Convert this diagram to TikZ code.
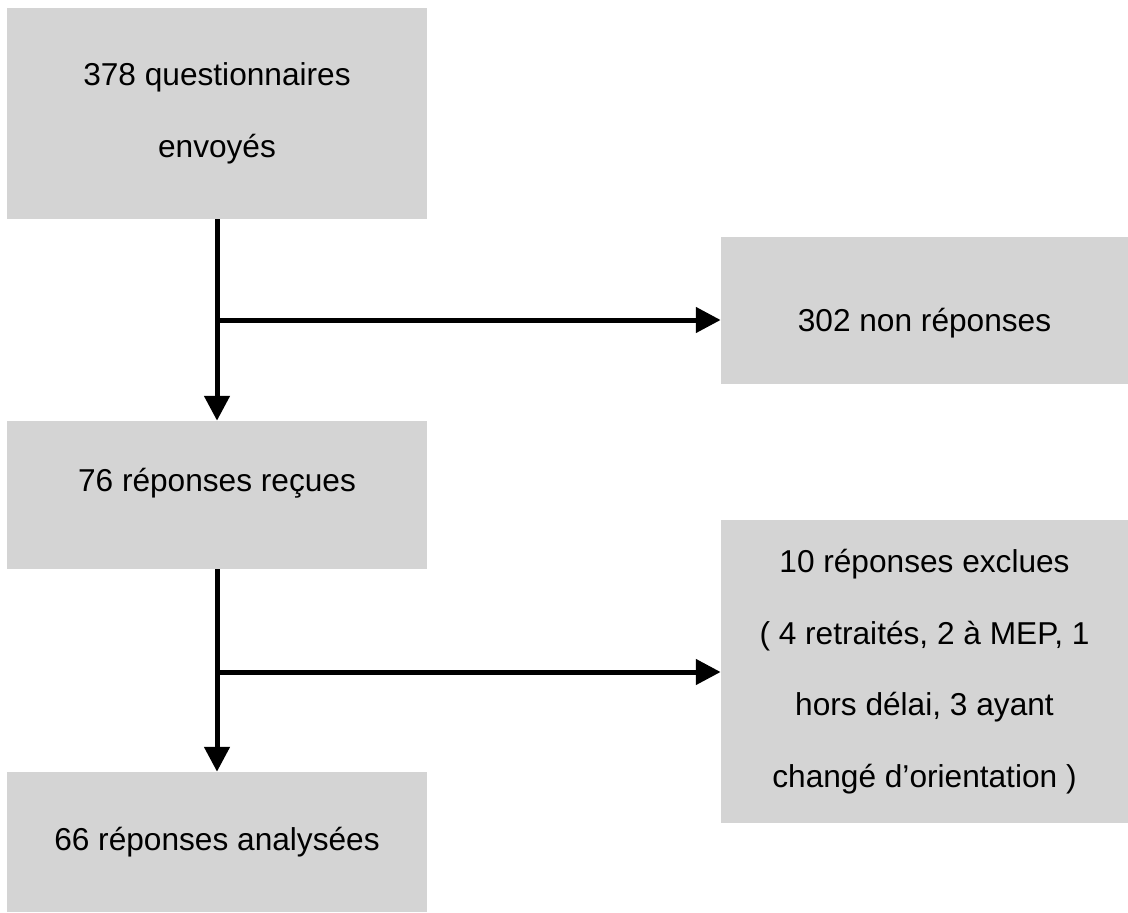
\documentclass[tikz,border=0pt]{standalone}
\usepackage{fontspec}
\setmainfont{Liberation Sans}
\usepackage{tikz}
\usetikzlibrary{arrows.meta}
\definecolor{FlowGrey}{HTML}{D4D4D4}

\begin{document}
\begin{tikzpicture}[x=0.025cm,y=-0.025cm,
  flowbox/.style={fill=FlowGrey,inner sep=0pt,align=center,font=\fontsize{22.5pt}{51pt}\selectfont},
  flowarrow/.style={line width=0.125cm,-{Triangle[length=0.62cm,width=0.62cm]}}]
\path[use as bounding box] (0,0) rectangle (1128,912);
\node[flowbox,minimum width=10.5cm,minimum height=5.275cm] (sent) at (217,113.5) {378 questionnaires\\envoyés};
\node[flowbox,minimum width=10.175cm,minimum height=3.675cm,text height=1.3cm,text depth=0.23cm] (nonrep) at (924.5,310.5) {302 non réponses};
\node[flowbox,minimum width=10.5cm,minimum height=3.7cm,text height=0.6cm,text depth=0.755cm] (recv) at (217,495) {76 réponses reçues};
\node[flowbox,minimum width=10.175cm,minimum height=7.575cm] (excl) at (924.5,671.5) {10 réponses exclues\\( 4 retraités, 2 à MEP, 1\\hors délai, 3 ayant\\changé d’orientation )};
\node[flowbox,minimum width=10.5cm,minimum height=3.5cm] (anal) at (217,842) {66 réponses analysées};
\coordinate (j1) at (217,320);
\coordinate (j2) at (217,672);
\draw[flowarrow] (sent) -- (recv);
\draw[flowarrow] (j1) -- (j1 -| nonrep.west);
\draw[flowarrow] (recv) -- (anal);
\draw[flowarrow] (j2) -- (j2 -| excl.west);
\end{tikzpicture}
\end{document}
